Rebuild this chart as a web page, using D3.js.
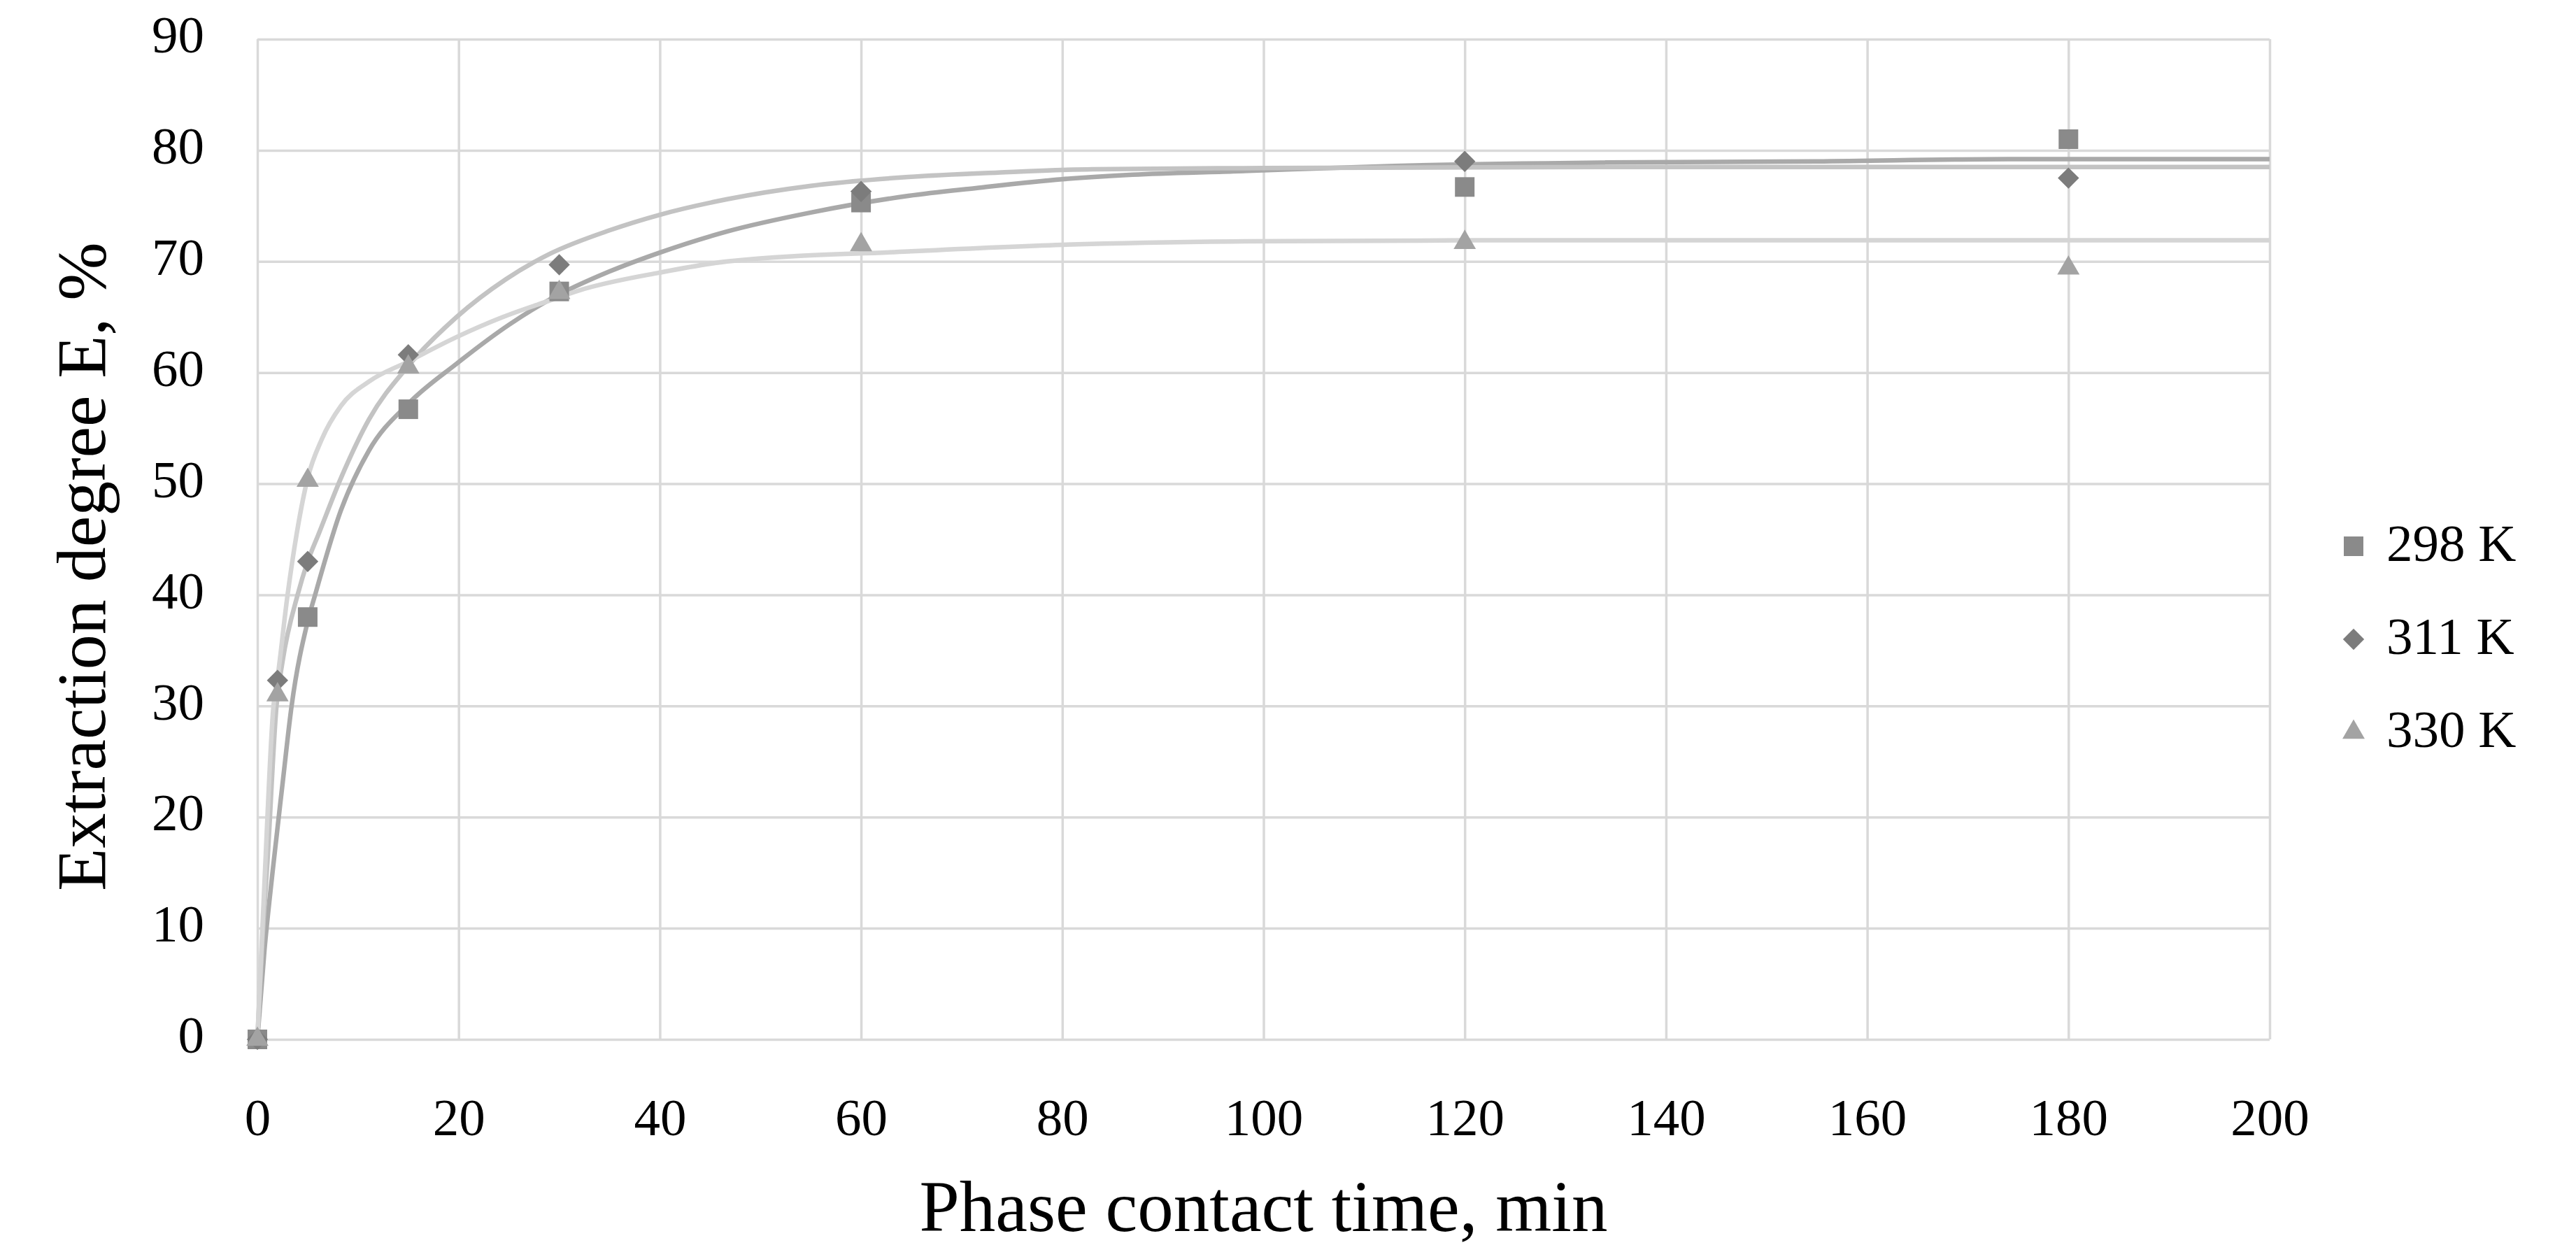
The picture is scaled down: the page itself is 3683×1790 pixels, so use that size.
<!DOCTYPE html>
<html>
<head>
<meta charset="utf-8">
<script src="https://cdn.jsdelivr.net/npm/d3@7"></script>
<style>
  html, body { margin: 0; padding: 0; background: #ffffff; }
  svg { display: block; }
</style>
</head>
<body>
<svg id="chart" width="3683" height="1790"></svg>
<script>
// ---------------- data ----------------
const xTicks = [0, 20, 40, 60, 80, 100, 120, 140, 160, 180, 200];
const yTicks = [0, 10, 20, 30, 40, 50, 60, 70, 80, 90];
const seriesNames = ["298 K", "311 K", "330 K"];

// measured points (time, min)
const times298 = [0, 5, 15, 30, 60, 120, 180];
const values298 = [0, 38.0, 56.7, 67.3, 75.3, 76.7, 81.0];
const times311 = [0, 2, 5, 15, 30, 60, 120, 180];
const values311 = [0, 32.3, 43.0, 61.6, 69.7, 76.3, 79.0, 77.5];
const times330 = [0, 2, 5, 15, 30, 60, 120, 180];
const values330 = [0, 31.0, 50.3, 60.5, 67.2, 71.5, 71.7, 69.4];

// fitted curves
const curveT298 = [0, 0.7, 1.5, 2.5, 3.4, 5, 5.8, 8.3, 11.1, 15, 19.8, 25, 29.1, 35, 40, 46.7, 55, 64.7, 71.4, 80, 87, 97, 113, 134, 155, 174, 200];
const curveE298 = [0, 8, 15, 23, 30, 37.6, 40.2, 47.6, 53, 57.2, 60.8, 64.3, 66.6, 69.1, 70.8, 72.7, 74.4, 75.9, 76.6, 77.4, 77.8, 78.1, 78.6, 78.9, 79.0, 79.2, 79.2];
const curveT311 = [0, 0.5, 1, 1.9, 2.5, 4, 5, 6.1, 8.3, 11.1, 15, 19.8, 24.7, 29.1, 35, 40, 46.7, 55, 64.7, 73.6, 83, 100, 134, 200];
const curveE311 = [0, 9, 16, 30, 34, 40, 43, 45.5, 50.5, 55.8, 60.6, 65.0, 68.4, 70.7, 72.8, 74.2, 75.6, 76.8, 77.6, 78.0, 78.3, 78.4, 78.5, 78.5];
const curveT330 = [0, 0.4, 0.75, 1.6, 2, 3, 4, 5, 6.4, 8.3, 11.1, 15, 19.8, 24.4, 29.1, 32, 40, 46.7, 64.7, 80, 97, 120, 200];
const curveE330 = [0, 8, 15, 30, 32.5, 40, 46, 50.5, 54, 57, 59.2, 61.0, 63.2, 65.0, 66.5, 67.4, 69.0, 70.0, 70.9, 71.5, 71.8, 71.9, 71.9];

// ---------------- styles ----------------
const FONT = "'Palatino Linotype','Book Antiqua',Palatino,'Liberation Serif','DejaVu Serif',serif";
const gridColor = "#d9d9d9";
const markerColors = ["#8a8a8a", "#7c7c7c", "#a3a3a3"];
const curveColors = ["#a9a9a9", "#c3c3c3", "#d5d5d5"];

const svg = d3.select("#chart");
svg.append("rect").attr("width", 3683).attr("height", 1790).attr("fill", "#fff");

const plotL = 368, plotR = 3245, plotT = 56, plotB = 1486;
const x = d3.scaleLinear().domain([0, 200]).range([plotL, plotR]);
const y = d3.scaleLinear().domain([0, 90]).range([plotB, plotT]);

// Y axis with gridlines
const gy = svg.append("g").attr("transform", `translate(${plotL},0)`)
  .call(d3.axisLeft(y).tickValues(yTicks).tickSize(-(plotR - plotL)).tickPadding(76).tickFormat(d3.format("d")));
gy.select(".domain").remove();
gy.selectAll(".tick line").attr("stroke", gridColor).attr("stroke-width", 3.5);
gy.selectAll(".tick text").attr("font-family", FONT).attr("font-size", 75).attr("fill", "#000").attr("dy", "0.25em");

// X axis with gridlines
const gx = svg.append("g").attr("transform", `translate(0,${plotB})`)
  .call(d3.axisBottom(x).tickValues(xTicks).tickSize(-(plotB - plotT)).tickFormat(d3.format("d")));
gx.select(".domain").remove();
gx.selectAll(".tick line").attr("stroke", gridColor).attr("stroke-width", 3.5);
gx.selectAll(".tick text").attr("font-family", FONT).attr("font-size", 75).attr("fill", "#000")
  .attr("y", 137).attr("dy", 0);

// curves
const line = d3.line().x(d => x(d[0])).y(d => y(d[1])).curve(d3.curveMonotoneX);
const curves = [
  d3.zip(curveT298, curveE298),
  d3.zip(curveT311, curveE311),
  d3.zip(curveT330, curveE330)
];
curves.forEach((c, i) => {
  svg.append("path").datum(c).attr("d", line).attr("fill", "none")
    .attr("stroke", curveColors[i]).attr("stroke-width", 6.5).attr("stroke-linejoin", "round");
});

// markers
const symSquare = d3.symbol().type(d3.symbolSquare).size(28 * 28);
const symDiamond = d3.symbol().type(d3.symbolSquare).size(21.5 * 21.5);
const symTriangle = d3.symbol().type(d3.symbolTriangle).size(440);
const points = [
  d3.zip(times298, values298),
  d3.zip(times311, values311),
  d3.zip(times330, values330)
];
const syms = [symSquare, symDiamond, symTriangle];
const rot = [0, 45, 0];
points.forEach((pts, i) => {
  svg.append("g").selectAll("path").data(pts).join("path")
    .attr("d", syms[i]())
    .attr("transform", d => `translate(${x(d[0])},${y(d[1])}) rotate(${rot[i]})`)
    .attr("fill", markerColors[i]);
});

// axis titles
svg.append("text").attr("x", (plotL + plotR) / 2).attr("y", 1760)
  .attr("text-anchor", "middle").attr("font-family", FONT).attr("font-size", 103).attr("fill", "#000")
  .text("Phase contact time, min");
svg.append("text").attr("transform", "translate(150,810) rotate(-90)")
  .attr("text-anchor", "middle").attr("font-family", FONT).attr("font-size", 100).attr("fill", "#000")
  .text("Extraction degree E, %");

// legend
const legendY = [781, 914, 1047];
seriesNames.forEach((name, i) => {
  const g = svg.append("g").attr("transform", `translate(3365,${legendY[i]})`);
  g.append("path").attr("d", syms[i]()).attr("transform", `rotate(${rot[i]})`).attr("fill", markerColors[i]);
  g.append("text").attr("x", 47).attr("y", 21).attr("font-family", FONT).attr("font-size", 75)
    .attr("fill", "#000").text(name);
});
</script>
</body>
</html>
